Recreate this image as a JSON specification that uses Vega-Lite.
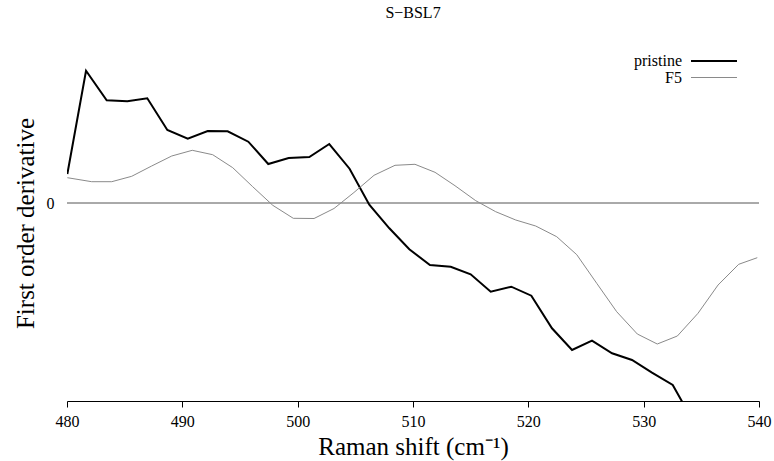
{
  "$schema": "https://vega.github.io/schema/vega-lite/v6.json",
  "width": 692,
  "height": 356,
  "autosize": "none",
  "padding": {"left": 67, "top": 45, "right": 15, "bottom": 60},
  "background": "white",
  "title": {"text": "S−BSL7", "font": "Times New Roman, Liberation Serif, serif", "fontSize": 16, "fontWeight": "normal", "color": "black", "anchor": "middle", "offset": 24},
  "config": {
    "view": {"stroke": null},
    "font": "Times New Roman, Liberation Serif, serif",
    "axis": {"labelFont": "Times New Roman, Liberation Serif, serif", "titleFont": "Times New Roman, Liberation Serif, serif", "grid": false, "labelColor": "black", "titleColor": "black", "titleFontWeight": "normal"},
    "legend": {"labelFont": "Times New Roman, Liberation Serif, serif"}
  },
  "datasets": {
    "spectra": [
      {"shift": 480.03, "value": 0.29, "sample": "pristine"},
      {"shift": 481.65, "value": 1.323, "sample": "pristine"},
      {"shift": 483.44, "value": 1.027, "sample": "pristine"},
      {"shift": 485.23, "value": 1.017, "sample": "pristine"},
      {"shift": 486.96, "value": 1.047, "sample": "pristine"},
      {"shift": 488.70, "value": 0.73, "sample": "pristine"},
      {"shift": 490.47, "value": 0.643, "sample": "pristine"},
      {"shift": 492.20, "value": 0.72, "sample": "pristine"},
      {"shift": 493.93, "value": 0.717, "sample": "pristine"},
      {"shift": 495.72, "value": 0.613, "sample": "pristine"},
      {"shift": 497.45, "value": 0.39, "sample": "pristine"},
      {"shift": 499.22, "value": 0.45, "sample": "pristine"},
      {"shift": 501.01, "value": 0.46, "sample": "pristine"},
      {"shift": 502.74, "value": 0.59, "sample": "pristine"},
      {"shift": 504.50, "value": 0.343, "sample": "pristine"},
      {"shift": 506.21, "value": -0.017, "sample": "pristine"},
      {"shift": 507.95, "value": -0.253, "sample": "pristine"},
      {"shift": 509.68, "value": -0.463, "sample": "pristine"},
      {"shift": 511.47, "value": -0.62, "sample": "pristine"},
      {"shift": 513.27, "value": -0.637, "sample": "pristine"},
      {"shift": 515.00, "value": -0.713, "sample": "pristine"},
      {"shift": 516.74, "value": -0.887, "sample": "pristine"},
      {"shift": 518.52, "value": -0.837, "sample": "pristine"},
      {"shift": 520.26, "value": -0.927, "sample": "pristine"},
      {"shift": 522.05, "value": -1.253, "sample": "pristine"},
      {"shift": 523.79, "value": -1.47, "sample": "pristine"},
      {"shift": 525.52, "value": -1.377, "sample": "pristine"},
      {"shift": 527.26, "value": -1.503, "sample": "pristine"},
      {"shift": 528.99, "value": -1.57, "sample": "pristine"},
      {"shift": 530.72, "value": -1.697, "sample": "pristine"},
      {"shift": 532.52, "value": -1.82, "sample": "pristine"},
      {"shift": 534.28, "value": -2.18, "sample": "pristine"},
      {"shift": 480.03, "value": 0.253, "sample": "F5"},
      {"shift": 482.14, "value": 0.213, "sample": "F5"},
      {"shift": 483.88, "value": 0.213, "sample": "F5"},
      {"shift": 485.61, "value": 0.267, "sample": "F5"},
      {"shift": 487.34, "value": 0.37, "sample": "F5"},
      {"shift": 489.08, "value": 0.47, "sample": "F5"},
      {"shift": 490.86, "value": 0.527, "sample": "F5"},
      {"shift": 492.63, "value": 0.483, "sample": "F5"},
      {"shift": 494.37, "value": 0.353, "sample": "F5"},
      {"shift": 496.10, "value": 0.163, "sample": "F5"},
      {"shift": 497.84, "value": -0.023, "sample": "F5"},
      {"shift": 499.62, "value": -0.153, "sample": "F5"},
      {"shift": 501.42, "value": -0.155, "sample": "F5"},
      {"shift": 503.15, "value": -0.055, "sample": "F5"},
      {"shift": 504.88, "value": 0.105, "sample": "F5"},
      {"shift": 506.62, "value": 0.277, "sample": "F5"},
      {"shift": 508.44, "value": 0.377, "sample": "F5"},
      {"shift": 510.17, "value": 0.387, "sample": "F5"},
      {"shift": 511.91, "value": 0.307, "sample": "F5"},
      {"shift": 513.64, "value": 0.173, "sample": "F5"},
      {"shift": 515.44, "value": 0.023, "sample": "F5"},
      {"shift": 517.17, "value": -0.087, "sample": "F5"},
      {"shift": 518.91, "value": -0.17, "sample": "F5"},
      {"shift": 520.64, "value": -0.23, "sample": "F5"},
      {"shift": 522.46, "value": -0.337, "sample": "F5"},
      {"shift": 524.20, "value": -0.517, "sample": "F5"},
      {"shift": 525.93, "value": -0.803, "sample": "F5"},
      {"shift": 527.66, "value": -1.087, "sample": "F5"},
      {"shift": 529.45, "value": -1.31, "sample": "F5"},
      {"shift": 531.18, "value": -1.41, "sample": "F5"},
      {"shift": 532.92, "value": -1.33, "sample": "F5"},
      {"shift": 534.71, "value": -1.103, "sample": "F5"},
      {"shift": 536.45, "value": -0.82, "sample": "F5"},
      {"shift": 538.24, "value": -0.613, "sample": "F5"},
      {"shift": 539.85, "value": -0.547, "sample": "F5"}
    ]
  },
  "layer": [
    {
      "data": {"values": [{"level": 0}]},
      "mark": {"type": "rule", "color": "#555555", "strokeWidth": 1},
      "encoding": {"y": {"field": "level", "type": "quantitative"}}
    },
    {
      "data": {"name": "spectra"},
      "mark": {"type": "line", "clip": true, "strokeJoin": "miter"},
      "encoding": {
        "x": {
          "field": "shift", "type": "quantitative",
          "scale": {"domain": [480, 540], "nice": false, "zero": false},
          "axis": {"values": [480, 490, 500, 510, 520, 530, 540], "title": "Raman shift (cm⁻¹)", "titleFontSize": 25, "labelFontSize": 16, "tickSize": 6, "labelPadding": 6, "domainColor": "black", "tickColor": "black", "titlePadding": 5, "labelFlush": false}
        },
        "y": {
          "field": "value", "type": "quantitative",
          "scale": {"domain": [-1.98, 1.58], "nice": false, "zero": false},
          "axis": {"values": [0], "format": "d", "domain": false, "ticks": false, "labelPadding": 13, "labelFontSize": 16, "title": "First order derivative", "titleFontSize": 25, "titlePadding": 8}
        },
        "color": {
          "field": "sample", "type": "nominal",
          "scale": {"domain": ["pristine", "F5"], "range": ["black", "#8a8a8a"]},
          "legend": {"title": null, "orient": "none", "legendX": 638, "legendY": 7, "symbolType": "M-3,0H3", "symbolSize": 235, "labelAlign": "right", "labelOffset": -41, "labelFontSize": 16, "labelColor": "black", "rowPadding": -6, "padding": 0}
        },
        "strokeWidth": {
          "field": "sample", "type": "nominal",
          "scale": {"domain": ["pristine", "F5"], "range": [2, 1]},
          "legend": null
        }
      }
    }
  ]
}
